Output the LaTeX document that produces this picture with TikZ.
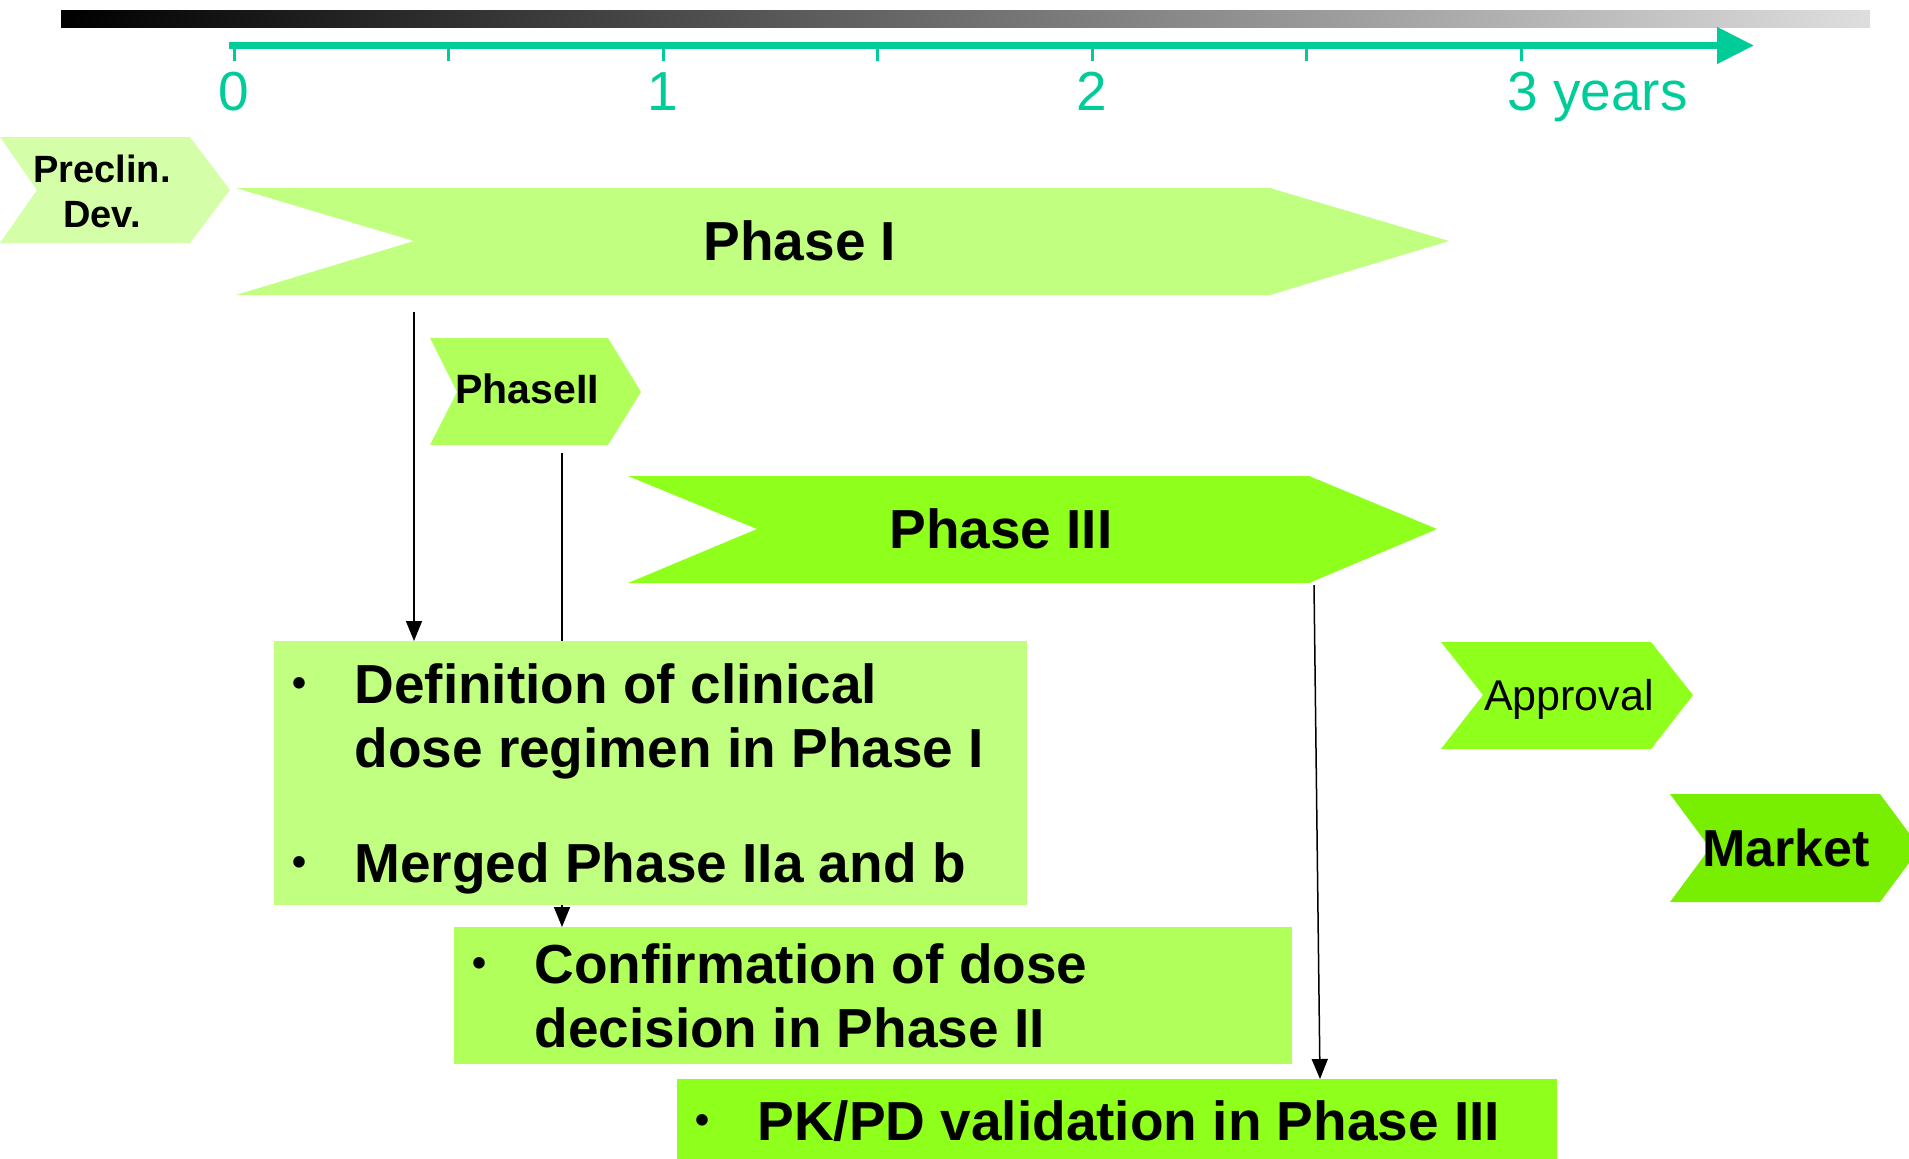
\documentclass[tikz,border=0pt]{standalone}
\usepackage{fontspec}
\setmainfont{Liberation Sans}
\usetikzlibrary{arrows.meta,calc,backgrounds}

% bullet with its hanging column
\newcommand{\blt}{\makebox[40pt][l]{\hspace{9pt}\raisebox{3.4pt}{\fontsize{20}{20}\selectfont •}}}

\begin{document}
\begin{tikzpicture}[
    x=0.5pt, y=-0.5pt,
    lbl/.style={inner sep=0pt, anchor=base, font=\fontsize{27.5}{32}\selectfont\bfseries},
    yearlbl/.style={inner sep=0pt, anchor=base, text=axisgreen, font=\fontsize{27.5}{32}\selectfont},
    note/.style={inner sep=0pt, anchor=north west},
    notetext/.style={inner sep=0pt, anchor=base west, font=\fontsize{27.5}{32}\selectfont\bfseries},
    conn/.style={line width=0.75pt, -{Triangle[length=10pt,width=8pt]}}
]

% Colours: light = early phases, strong = late phases
\definecolor{axisgreen}{RGB}{0, 204, 153}
\definecolor{preclin}{RGB}{212, 255, 168}
\definecolor{phaseA}{RGB}{192, 255, 128}
\definecolor{phaseB}{RGB}{176, 255, 90}
\definecolor{phaseC}{RGB}{143, 255, 28}
\definecolor{market}{RGB}{120, 238, 0}

\useasboundingbox (0,0) rectangle (1909,1158);

% Time axis
\shade[left color=black, right color=black!13] (61,10) rectangle (1870,27);
\draw[axisgreen, line width=3.8pt, -{Triangle[length=18.5pt,width=17.5pt]}] (229,45.5) -- (1754,45.5);
\foreach \i in {0,...,6} {
    \draw[axisgreen, line width=1.5pt] (234+214.5*\i, 49) -- (234+214.5*\i, 61);
}
\node[yearlbl] (y0) at (234,110) {0};
\node[yearlbl] (y1) at (663,110) {1};
\node[yearlbl] (y2) at (1092,110) {2};
\node[yearlbl, anchor=base west] (y3) at (1507,110) {3 years};

% Phase chevrons
\fill[preclin] (0,137) -- (190,137) -- (230,190) -- (190,243) -- (0,243) -- (37,190) -- cycle;
\fill[phaseA] (236,188) -- (1270,188) -- (1449,241) -- (1270,295) -- (236,295) -- (414,241) -- cycle;
\fill[phaseB] (430,338) -- (608,338) -- (641,392) -- (608,445) -- (430,445) -- (457,392) -- cycle;
\fill[phaseC] (628,476) -- (1309,476) -- (1437,529) -- (1309,583) -- (628,583) -- (757,529) -- cycle;
\fill[phaseC] (1441,642) -- (1651,642) -- (1693,695) -- (1651,749) -- (1441,749) -- (1483,695) -- cycle;
\fill[market] (1670,794) -- (1880,794) -- (1920,848) -- (1880,902) -- (1670,902) -- (1710,848) -- cycle;

\node[lbl, font=\fontsize{19}{22.5}\selectfont\bfseries] (pre) at (102,182)
    {\begin{tabular}[t]{@{}c@{}}Preclin.\\ Dev.\end{tabular}};
\node[lbl] (p1) at (800,260) {Phase I};
\node[lbl, font=\fontsize{20.5}{24}\selectfont\bfseries] (p2) at (527,403) {PhaseII};
\node[lbl] (p3) at (1001,548) {Phase III};
\node[lbl, font=\fontsize{21.5}{26}\selectfont] (appr) at (1569,710) {Approval};
\node[lbl, font=\fontsize{26}{30}\selectfont\bfseries] (mkt) at (1786,866) {Market};

% Dose decision boxes
\node[note, fill=phaseA, minimum width=376.5pt, minimum height=132pt] (box1) at (274,641) {};
\node[note, fill=phaseB, minimum width=419pt, minimum height=68.5pt] (box2) at (454,927) {};
\node[note, fill=phaseC, minimum width=440pt, minimum height=50pt] (box3) at (677,1079) {};

\node[notetext] (box1t) at (274,703) {\begin{tabular}[t]{@{}l@{}l@{}}
    \blt & Definition of clinical\\
         & dose regimen in Phase I\\[25.5pt]
    \blt & Merged Phase IIa and b
\end{tabular}};
\node[notetext] (box2t) at (454,983) {\begin{tabular}[t]{@{}l@{}l@{}}
    \blt & Confirmation of dose\\
         & decision in Phase II
\end{tabular}};
\node[notetext] (box3t) at (677,1140) {\begin{tabular}[t]{@{}l@{}l@{}}
    \blt & PK/PD validation in Phase III
\end{tabular}};

% Connectors
\coordinate (a1) at (414,312);
\coordinate (a2) at (562,453);
\coordinate (a3) at (1314,585);
\draw[conn] (a1) -- (a1 |- box1.north);
\begin{scope}[on background layer]
    \draw[conn] (a2) -- (a2 |- box2.north);
\end{scope}
\draw[conn] (a3) -- ($(a3 |- box3.north)+(6,0)$);

\end{tikzpicture}
\end{document}
